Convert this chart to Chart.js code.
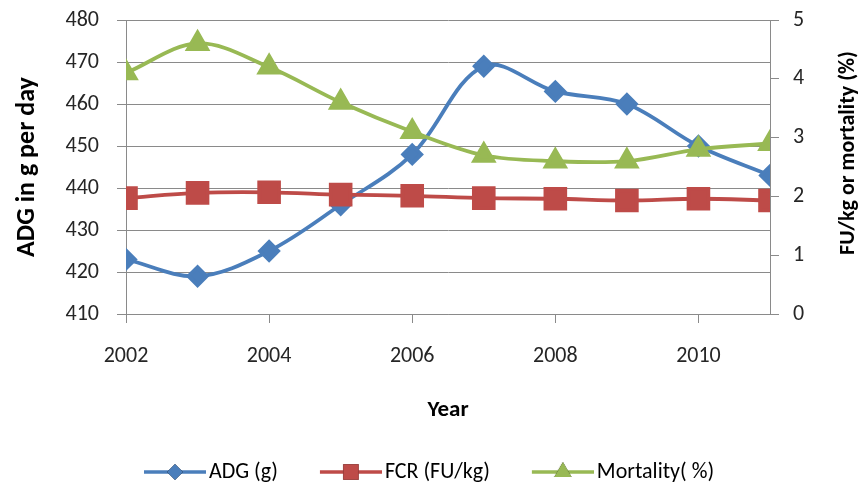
<!DOCTYPE html>
<html><head><meta charset="utf-8">
<script src="https://cdn.jsdelivr.net/npm/chart.js@4/dist/chart.umd.min.js"></script>
<style>html,body{margin:0;padding:0;background:#fff}#wrap{width:859px;height:490px}</style>
</head><body><div id="wrap"><canvas id="c" width="859" height="490"></canvas></div>
<script>
const years = [2002, 2003, 2004, 2005, 2006, 2007, 2008, 2009, 2010, 2011];
const adg = [423, 419, 425, 436, 448, 469, 463, 460, 450, 443];
const fcr = [1.97, 2.06, 2.07, 2.03, 2.01, 1.97, 1.96, 1.93, 1.96, 1.93];
const mortality = [4.1, 4.6, 4.2, 3.6, 3.1, 2.7, 2.6, 2.6, 2.8, 2.9];
const seriesNames = ['ADG (g)', 'FCR (FU/kg)', 'Mortality( %)'];
const xTickLabels = [2002, 2004, 2006, 2008, 2010];
const rightTitle = 'FU/kg or mortality (%)';

const FONT = 'Carlito, Lato, sans-serif';
const BLUE = '#4a7ebb', RED = '#be4b48', GREEN = '#98b954', GRID = '#8a8a8a';
const BOXW = 86;

function icon(color, style, r) {
  const W = BOXW + 16, H = 24;
  const c = document.createElement('canvas');
  c.width = W; c.height = H;
  const g = c.getContext('2d');
  g.strokeStyle = color; g.lineWidth = 3.5;
  const x0 = W - 62, x1 = W;
  g.beginPath(); g.moveTo(x0, H / 2); g.lineTo(x1, H / 2); g.stroke();
  g.beginPath();
  Chart.helpers.drawPoint(g, {pointStyle: style, radius: r, rotation: 0, borderWidth: 0}, (x0 + x1) / 2, H / 2);
  g.fillStyle = color; g.fill();
  return c;
}

const rightTitlePlugin = {
  id: 'rightTitle',
  afterDraw(chart) {
    const ctx = chart.ctx;
    ctx.save();
    ctx.translate(848, 153);
    ctx.rotate(-Math.PI / 2);
    ctx.font = 'bold 22px ' + FONT;
    ctx.fillStyle = '#000';
    ctx.textAlign = 'center';
    ctx.textBaseline = 'middle';
    ctx.fillText(rightTitle, 0, 0);
    ctx.restore();
  }
};

const noPad = (w) => (s) => { s.width = w; s.paddingTop = 0; s.paddingBottom = 0; };
const mk = (arr) => years.map((y, i) => ({x: y, y: arr[i]}));

new Chart(document.getElementById('c'), {
  type: 'line',
  data: {
    datasets: [
      {label: seriesNames[0], data: mk(adg), yAxisID: 'y', borderColor: BLUE, backgroundColor: BLUE,
       pointStyle: 'rectRot', pointRadius: 9, borderWidth: 3.8, tension: 0.35, order: 3},
      {label: seriesNames[1], data: mk(fcr), yAxisID: 'y2', borderColor: RED, backgroundColor: RED,
       pointStyle: 'rect', pointRadius: 14, borderWidth: 3.8, tension: 0.35, order: 2},
      {label: seriesNames[2], data: mk(mortality), yAxisID: 'y2', borderColor: GREEN, backgroundColor: GREEN,
       pointStyle: 'triangle', pointRadius: 11, borderWidth: 3.8, tension: 0.35, order: 1}
    ]
  },
  plugins: [rightTitlePlugin],
  options: {
    responsive: false, animation: false, events: [],
    layout: {padding: {top: 20, left: 0, right: 33, bottom: -3}},
    plugins: {
      tooltip: {enabled: false},
      legend: {
        position: 'bottom',
        labels: {
          usePointStyle: true, pointStyleWidth: BOXW, padding: 10,
          font: {family: FONT, size: 22}, color: '#262626',
          generateLabels: (chart) => {
            const cols = [BLUE, RED, GREEN], st = ['rectRot', 'rect', 'triangle'], rr = [8, 11, 10];
            return seriesNames.map((n, i) => ({text: n, pointStyle: icon(cols[i], st[i], rr[i]),
              fillStyle: cols[i], strokeStyle: cols[i], lineWidth: 0, datasetIndex: i, hidden: false}));
          }
        }
      }
    },
    scales: {
      x: {
        type: 'linear', min: 2002, max: 2011,
        afterBuildTicks: (s) => { s.ticks = xTickLabels.map(v => ({value: v})); },
        afterFit: (s) => { s.height = 137; },
        ticks: {font: {family: FONT, size: 22}, color: '#262626', padding: 20, maxRotation: 0,
                callback: (v) => String(v)},
        grid: {drawOnChartArea: false, color: GRID, tickLength: 9, tickWidth: 1},
        border: {color: GRID, width: 1},
        title: {display: true, text: 'Year', font: {family: FONT, size: 23, weight: 'bold'}, color: '#000',
                padding: {top: 0, bottom: 27}}
      },
      y: {
        position: 'left', min: 410, max: 480,
        afterFit: noPad(126),
        ticks: {stepSize: 10, font: {family: FONT, size: 22}, color: '#262626', padding: 18},
        grid: {color: GRID, tickLength: 9, lineWidth: 1},
        border: {color: GRID, width: 1},
        title: {display: true, text: 'ADG in g per day', font: {family: FONT, size: 26, weight: 'bold'}, color: '#000',
                padding: {top: 12, bottom: 0}}
      },
      y2: {
        position: 'right', min: 0, max: 5,
        afterFit: noPad(56),
        ticks: {stepSize: 1, font: {family: FONT, size: 22}, color: '#262626', padding: 14},
        grid: {drawOnChartArea: false, color: GRID, tickLength: 9},
        border: {color: GRID, width: 1}
      }
    }
  }
});
</script></body></html>
